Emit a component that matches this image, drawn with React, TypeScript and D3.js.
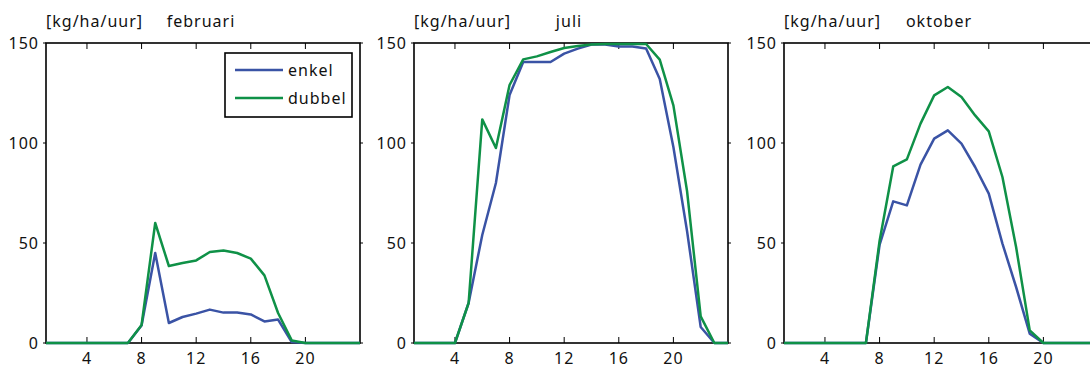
import React from "react";
import * as d3 from "d3";

// Hour of day (1..24)
const hours = [1, 2, 3, 4, 5, 6, 7, 8, 9, 10, 11, 12, 13, 14, 15, 16, 17, 18, 19, 20, 21, 22, 23, 24];

// Hourly rate [kg/ha/uur] per month, single ("enkel") and double ("dubbel")
const febEnkel = [0, 0, 0, 0, 0, 0, 0, 8.8, 45, 10, 13, 14.7, 16.7, 15.2, 15.2, 14.3, 10.8, 11.7, 0.5, 0, 0, 0, 0, 0];
const febDubbel = [0, 0, 0, 0, 0, 0, 0, 9, 60, 38.5, 40, 41.3, 45.5, 46.3, 45, 42.2, 33.8, 15, 1.3, 0, 0, 0, 0, 0];

const julEnkel = [0, 0, 0, 0, 20, 54, 80, 124, 140.5, 140.5, 140.5, 144.7, 147.2, 149.2, 149.2, 148.2, 148.2, 147.2, 132, 98, 56, 8, 0, 0];
const julDubbel = [0, 0, 0, 0, 20, 111.8, 97.5, 129, 141.8, 143.3, 145.5, 147.5, 148.5, 149.3, 149.5, 149.5, 149.5, 149.5, 141.7, 118.8, 76, 13.3, 0, 0];

const oktEnkel = [0, 0, 0, 0, 0, 0, 0, 49, 70.8, 68.8, 89.2, 102.2, 106.3, 99.7, 88, 74.7, 49.7, 28, 4.7, 0, 0, 0, 0, 0];
const oktDubbel = [0, 0, 0, 0, 0, 0, 0, 51, 88.3, 91.8, 109.7, 123.8, 128, 123, 113.8, 105.8, 83, 48, 6.3, 0, 0, 0, 0, 0];

const months = ["februari", "juli", "oktober"];
const seriesNames = ["enkel", "dubbel"];
const xTicks = [4, 8, 12, 16, 20];
const yTicks = [0, 50, 100, 150];
const unitLabel = "[kg/ha/uur]";

const panels = [
  { title: months[0], enkel: febEnkel, dubbel: febDubbel, left: 46 },
  { title: months[1], enkel: julEnkel, dubbel: julDubbel, left: 414 },
  { title: months[2], enkel: oktEnkel, dubbel: oktDubbel, left: 784 },
];

const BLUE = "#3a53a5";
const GREEN = "#0f9147";
const W = 1090;
const H = 371;
const plotW = 314;
const top = 43;
const bottom = 343;
const font = "'Noto Sans', sans-serif";

function Panel({ p, showLegend }: { p: typeof panels[number]; showLegend: boolean }) {
  const x = d3.scaleLinear().domain([1, 24]).range([p.left, p.left + plotW]);
  const y = d3.scaleLinear().domain([0, 150]).range([bottom, top]);
  const line = d3
    .line<number>()
    .x((_, i) => x(hours[i]))
    .y((d) => y(d));
  const right = p.left + plotW;
  return (
    <g>
      <text x={p.left} y={27} fontSize={16} letterSpacing={1} fontFamily={font} fill="#111">
        {unitLabel}
      </text>
      <text x={p.left + 155} y={27} fontSize={16} letterSpacing={1} fontFamily={font} fill="#111" textAnchor="middle">
        {p.title}
      </text>
      <rect x={p.left} y={top} width={plotW} height={bottom - top} fill="none" stroke="#000" strokeWidth={1.6} />
      {xTicks.map((t) => (
        <g key={"x" + t}>
          <line x1={x(t)} x2={x(t)} y1={bottom} y2={bottom - 6} stroke="#000" strokeWidth={1} />
          <line x1={x(t)} x2={x(t)} y1={top} y2={top + 6} stroke="#000" strokeWidth={1} />
          <text x={x(t)} y={bottom + 21} fontSize={16} letterSpacing={1} fontFamily={font} fill="#111" textAnchor="middle">
            {t}
          </text>
        </g>
      ))}
      {yTicks.map((t) => (
        <g key={"y" + t}>
          <line x1={p.left - 3} x2={p.left} y1={y(t)} y2={y(t)} stroke="#000" strokeWidth={1} />
          <line x1={right} x2={right + 3} y1={y(t)} y2={y(t)} stroke="#000" strokeWidth={1} />
          <text x={p.left - 7} y={y(t)} dy="0.36em" fontSize={16} letterSpacing={1} fontFamily={font} fill="#111" textAnchor="end">
            {t}
          </text>
        </g>
      ))}
      <path d={line(p.enkel) || ""} fill="none" stroke={BLUE} strokeWidth={2.5} strokeLinejoin="round" />
      <path d={line(p.dubbel) || ""} fill="none" stroke={GREEN} strokeWidth={2.5} strokeLinejoin="round" />
      {showLegend && (
        <g>
          <rect x={225} y={53} width={127} height={64} fill="#fff" stroke="#000" strokeWidth={1.6} />
          <line x1={235} x2={283} y1={70} y2={70} stroke={BLUE} strokeWidth={2.5} />
          <line x1={235} x2={283} y1={98} y2={98} stroke={GREEN} strokeWidth={2.5} />
          <text x={288} y={70} dy="0.36em" fontSize={16} letterSpacing={1} fontFamily={font} fill="#111">
            {seriesNames[0]}
          </text>
          <text x={288} y={98} dy="0.36em" fontSize={16} letterSpacing={1} fontFamily={font} fill="#111">
            {seriesNames[1]}
          </text>
        </g>
      )}
    </g>
  );
}

export default function App() {
  return (
    <svg
      width={W}
      height={H}
      style={{ position: "absolute", left: 0, top: 0, display: "block", background: "#fff" }}
    >
      <rect width={W} height={H} fill="#fff" />
      {panels.map((p, i) => (
        <Panel key={p.title} p={p} showLegend={i === 0} />
      ))}
    </svg>
  );
}
